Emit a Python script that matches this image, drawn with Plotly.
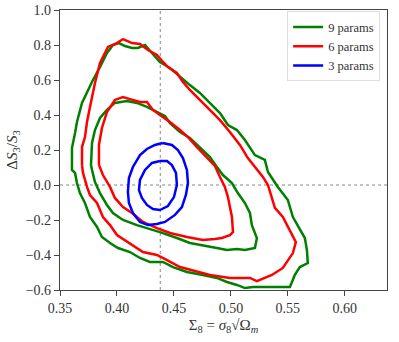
import plotly.graph_objects as go

# ---- data ----
fiducial_sigma8 = 0.438
fiducial_dS3 = 0.0

x_ticks = [0.35, 0.40, 0.45, 0.50, 0.55, 0.60]
y_ticks = [-0.6, -0.4, -0.2, 0.0, 0.2, 0.4, 0.6, 0.8, 1.0]

series_names = ["9 params", "6 params", "3 params"]
series_colors = ["green", "red", "blue"]

# 9 params, outer contour
p9_outer_x = [0.3605, 0.3605, 0.3632, 0.3649, 0.3693, 0.3737, 0.3789, 0.3851, 0.3912, 0.3965,
              0.4018, 0.4070, 0.4132, 0.4184, 0.4246, 0.4307, 0.4377, 0.4465, 0.4553, 0.4640,
              0.4728, 0.4816, 0.4904, 0.4974, 0.5053, 0.5123, 0.5167, 0.5211, 0.5298, 0.5325,
              0.5412, 0.5500, 0.5544, 0.5605, 0.5649, 0.5667, 0.5675, 0.5605, 0.5561, 0.5518,
              0.5430, 0.5298, 0.5193, 0.5123, 0.5053, 0.4965, 0.4877, 0.4754, 0.4614, 0.4491,
              0.4404, 0.4289, 0.4202, 0.4114, 0.4009, 0.3939, 0.3868, 0.3825, 0.3763, 0.3719,
              0.3675, 0.3649, 0.3632, 0.3605]
p9_outer_y = [0.143, 0.211, 0.297, 0.360, 0.469, 0.531, 0.600, 0.674, 0.754, 0.800,
              0.811, 0.794, 0.783, 0.783, 0.800, 0.754, 0.703, 0.669, 0.617, 0.571,
              0.526, 0.469, 0.411, 0.343, 0.314, 0.257, 0.217, 0.171, 0.143, 0.074,
              -0.011, -0.086, -0.183, -0.257, -0.303, -0.371, -0.446, -0.469, -0.514, -0.583,
              -0.583, -0.583, -0.583, -0.589, -0.571, -0.554, -0.531, -0.514, -0.497, -0.469,
              -0.440, -0.440, -0.417, -0.383, -0.360, -0.331, -0.297, -0.240, -0.183, -0.103,
              -0.046, 0.011, 0.069, 0.086]

# 9 params, inner contour
p9_inner_x = [0.3772, 0.3781, 0.3807, 0.3851, 0.3912, 0.3982, 0.4088, 0.4175, 0.4263, 0.4351,
              0.4421, 0.4465, 0.4553, 0.4640, 0.4728, 0.4816, 0.4877, 0.4930, 0.5009, 0.5061,
              0.5123, 0.5167, 0.5184, 0.5228, 0.5211, 0.5123, 0.5053, 0.4965, 0.4877, 0.4754,
              0.4640, 0.4526, 0.4377, 0.4175, 0.4053, 0.3965, 0.3912, 0.3851, 0.3807, 0.3781]
p9_inner_y = [0.114, 0.240, 0.314, 0.383, 0.429, 0.469, 0.480, 0.469, 0.446, 0.417,
              0.394, 0.354, 0.303, 0.269, 0.217, 0.160, 0.103, 0.057, 0.011, -0.046,
              -0.103, -0.160, -0.229, -0.303, -0.360, -0.371, -0.366, -0.371, -0.360, -0.343,
              -0.331, -0.303, -0.269, -0.229, -0.200, -0.160, -0.114, -0.046, 0.017, 0.086]

# 6 params, outer contour
p6_outer_x = [0.3693, 0.3693, 0.3719, 0.3737, 0.3763, 0.3807, 0.3851, 0.3921, 0.4000, 0.4053,
              0.4132, 0.4202, 0.4272, 0.4351, 0.4404, 0.4447, 0.4526, 0.4579, 0.4640, 0.4728,
              0.4816, 0.4904, 0.4991, 0.5079, 0.5149, 0.5228, 0.5281, 0.5325, 0.5360, 0.5386,
              0.5456, 0.5518, 0.5570, 0.5544, 0.5500, 0.5456, 0.5360, 0.5228, 0.5167, 0.4991,
              0.4816, 0.4667, 0.4553, 0.4439, 0.4351, 0.4228, 0.4175, 0.4088, 0.4000, 0.3939,
              0.3877, 0.3825, 0.3763, 0.3737, 0.3702]
p6_outer_y = [0.114, 0.217, 0.274, 0.360, 0.446, 0.583, 0.697, 0.789, 0.811, 0.834,
              0.811, 0.806, 0.771, 0.743, 0.703, 0.674, 0.640, 0.589, 0.543, 0.486,
              0.429, 0.371, 0.303, 0.229, 0.154, 0.086, 0.046, 0.000, -0.069, -0.131,
              -0.183, -0.257, -0.326, -0.389, -0.429, -0.474, -0.514, -0.549, -0.531, -0.531,
              -0.514, -0.486, -0.469, -0.429, -0.400, -0.383, -0.360, -0.326, -0.286, -0.229,
              -0.183, -0.103, -0.057, -0.011, 0.069]

# 6 params, inner contour
p6_inner_x = [0.3842, 0.3842, 0.3868, 0.3912, 0.3982, 0.4053, 0.4114, 0.4202, 0.4263, 0.4316,
              0.4377, 0.4465, 0.4553, 0.4623, 0.4702, 0.4789, 0.4860, 0.4904, 0.4947, 0.4974,
              0.5009, 0.5018, 0.4991, 0.4921, 0.4860, 0.4754, 0.4614, 0.4465, 0.4351, 0.4228,
              0.4132, 0.4053, 0.3982, 0.3939, 0.3877]
p6_inner_y = [0.114, 0.229, 0.326, 0.417, 0.486, 0.503, 0.491, 0.474, 0.474, 0.429,
              0.400, 0.360, 0.314, 0.274, 0.217, 0.154, 0.109, 0.046, -0.011, -0.069,
              -0.183, -0.269, -0.286, -0.303, -0.309, -0.314, -0.297, -0.274, -0.246, -0.211,
              -0.160, -0.126, -0.074, -0.011, 0.057]

# 3 params, outer contour
p3_outer_x = [0.4400, 0.4333, 0.4263, 0.4202, 0.4140, 0.4105, 0.4096, 0.4105, 0.4140, 0.4202,
              0.4272, 0.4351, 0.4421, 0.4509, 0.4570, 0.4605, 0.4623, 0.4614, 0.4579, 0.4535,
              0.4482]
p3_outer_y = [0.240, 0.229, 0.206, 0.171, 0.103, 0.040, -0.040, -0.103, -0.160, -0.211,
              -0.229, -0.223, -0.211, -0.171, -0.126, -0.057, 0.011, 0.086, 0.154, 0.200,
              0.229]

# 3 params, inner contour
p3_inner_x = [0.4377, 0.4307, 0.4246, 0.4202, 0.4193, 0.4219, 0.4263, 0.4316, 0.4377, 0.4447,
              0.4500, 0.4526, 0.4518, 0.4482, 0.4439]
p3_inner_y = [0.137, 0.126, 0.086, 0.029, -0.029, -0.074, -0.114, -0.137, -0.143, -0.120,
              -0.069, 0.000, 0.069, 0.114, 0.137]

contours = [
    (0, p9_outer_x, p9_outer_y), (0, p9_inner_x, p9_inner_y),
    (1, p6_outer_x, p6_outer_y), (1, p6_inner_x, p6_inner_y),
    (2, p3_outer_x, p3_outer_y), (2, p3_inner_x, p3_inner_y),
]

FONT = "Liberation Serif, Times New Roman, serif"

fig = go.Figure()
shown = set()
for idx, xs, ys in contours:
    fig.add_trace(go.Scatter(
        x=list(xs) + [xs[0]], y=list(ys) + [ys[0]],
        mode="lines",
        line=dict(color=series_colors[idx], width=2.5),
        name=series_names[idx],
        legendgroup=series_names[idx],
        showlegend=idx not in shown,
        hoverinfo="skip",
    ))
    shown.add(idx)

# fiducial reference lines
fig.add_shape(type="line", xref="x", yref="paper", x0=fiducial_sigma8, x1=fiducial_sigma8,
              y0=0, y1=1, line=dict(color="#888", width=1, dash="dot"), layer="below")
fig.add_shape(type="line", xref="paper", yref="y", x0=0, x1=1,
              y0=fiducial_dS3, y1=fiducial_dS3, line=dict(color="#888", width=1, dash="dot"),
              layer="below")

axis_common = dict(
    showgrid=False, zeroline=False, showline=True, linecolor="#444", linewidth=1.2,
    mirror=True, ticks="outside", ticklen=5, tickwidth=1, tickcolor="#444",
    tickfont=dict(family=FONT, size=14, color="#333"), automargin=False,
)

fig.update_layout(
    width=399, height=342,
    margin=dict(l=60, r=12, t=10, b=52),
    plot_bgcolor="white", paper_bgcolor="white",
    font=dict(family=FONT, size=14, color="#333"),
    xaxis=dict(range=[0.35, 0.637], tickvals=x_ticks,
               ticktext=[f"{v:.2f}" for v in x_ticks],
               title=dict(text="Σ<sub>8</sub> = <i>σ</i><sub>8</sub>√Ω<sub><i>m</i></sub>",
                          font=dict(family=FONT, size=15, color="#333"), standoff=4),
               **axis_common),
    yaxis=dict(range=[-0.6, 1.0], tickvals=y_ticks,
               ticktext=[f"{v:.1f}".replace("-", "−") for v in y_ticks],
               title=dict(text="Δ<i>S</i><sub>3</sub>/<i>S</i><sub>3</sub>",
                          font=dict(family=FONT, size=15, color="#333"), standoff=4),
               **axis_common),
    legend=dict(x=0.979, y=0.995, xanchor="right", yanchor="top",
                bgcolor="rgba(255,255,255,0.9)", bordercolor="#ddd", borderwidth=1,
                font=dict(family=FONT, size=12.5, color="#333"),
                itemwidth=30, tracegroupgap=0),
)

fig.write_html("out.html", config={"displayModeBar": False},
               post_script="document.body.style.margin='0';document.body.style.padding='0';")
